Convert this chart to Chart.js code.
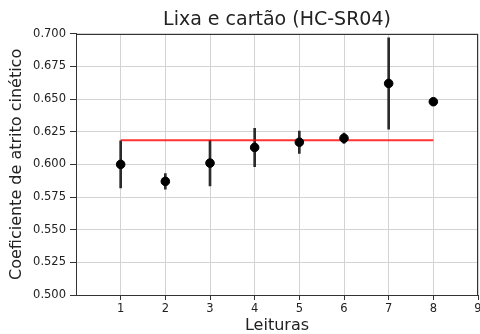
<!DOCTYPE html>
<html>
<head>
<meta charset="utf-8">
<script src="https://cdn.jsdelivr.net/npm/chart.js@4/dist/chart.umd.min.js"></script>
<style>
  body { margin: 0; background: #ffffff; }
  #wrap { width: 480px; height: 334px; }
</style>
</head>
<body>
<div id="wrap"><canvas id="atrito" width="480" height="334"></canvas></div>
<script>
// Data
const readings = [1, 2, 3, 4, 5, 6, 7, 8];
const means = [0.600, 0.587, 0.601, 0.613, 0.617, 0.620, 0.662, 0.648];
const errors = [0.018, 0.006, 0.0175, 0.0147, 0.0085, 0.004, 0.035, 0.0];
const meanLineX = [1, 8];
const meanValue = 0.6185;
const xTicks = [1, 2, 3, 4, 5, 6, 7, 8, 9];

const FONT = "'DejaVu Sans', sans-serif";

// frame on top and right like matplotlib spines
const framePlugin = {
  id: 'frame',
  afterDraw(chart) {
    const a = chart.chartArea;
    const ctx = chart.ctx;
    ctx.save();
    ctx.strokeStyle = '#333';
    ctx.lineWidth = 1;
    ctx.strokeRect(Math.round(a.left) + 0.5, Math.round(a.top) + 0.5,
      Math.round(a.right - a.left) - 1, Math.round(a.bottom - a.top));
    ctx.restore();
  }
};

document.addEventListener('DOMContentLoaded', function () {
  const ctx = document.getElementById('atrito').getContext('2d');
  new Chart(ctx, {
    type: 'scatter',
    data: {
      datasets: [
        {
          type: 'scatter',
          label: 'Leituras',
          data: readings.map((x, i) => ({ x: x, y: means[i] })),
          backgroundColor: '#000',
          borderColor: '#000',
          pointRadius: 4.3,
          order: 0
        },
        {
          type: 'line',
          label: 'Média',
          data: meanLineX.map(x => ({ x: x, y: meanValue })),
          borderColor: 'rgba(255, 0, 0, 0.8)',
          borderWidth: 2,
          pointRadius: 0,
          fill: false,
          order: 1
        },
        {
          type: 'bar',
          label: 'Erro',
          data: readings.map((x, i) => ({ x: x, y: [means[i] - errors[i], means[i] + errors[i]] })),
          backgroundColor: '#2b2b2b',
          borderWidth: 0,
          barThickness: 2,
          grouped: false,
          order: 2
        }
      ]
    },
    options: {
      responsive: false,
      animation: false,
      layout: { autoPadding: false, padding: { left: 0, right: 2, top: 0, bottom: 0 } },
      plugins: {
        legend: { display: false },
        tooltip: { enabled: false },
        title: {
          display: true,
          fullSize: false,
          text: 'Lixa e cartão (HC-SR04)',
          color: '#222',
          font: { family: FONT, size: 19, weight: 'normal' },
          padding: { top: 9, bottom: 2 }
        }
      },
      scales: {
        x: {
          type: 'linear',
          min: 0,
          max: 9,
          offset: false,
          afterBuildTicks: function (scale) {
            scale.ticks = xTicks.map(v => ({ value: v }));
          },
          afterFit: function (scale) {
            scale.height = 39;
            scale.paddingLeft = 0;
            scale.paddingRight = 0;
          },
          grid: { color: '#d3d3d3', tickColor: '#333', tickLength: 5, offset: false },
          border: { color: '#333', width: 1 },
          ticks: {
            color: '#222',
            padding: 2,
            maxRotation: 0,
            font: { family: FONT, size: 11.5 }
          },
          title: {
            display: true,
            text: 'Leituras',
            color: '#222',
            font: { family: FONT, size: 16, lineHeight: 1.0 },
            padding: { top: 0, bottom: 0 }
          }
        },
        y: {
          type: 'linear',
          min: 0.5,
          max: 0.7,
          afterFit: function (scale) {
            scale.width = 76;
          },
          grid: { color: '#d3d3d3', tickColor: '#333', tickLength: 6 },
          border: { color: '#333', width: 1 },
          ticks: {
            stepSize: 0.025,
            color: '#222',
            padding: 4,
            font: { family: FONT, size: 11.5 },
            callback: function (v) { return v.toFixed(3); }
          },
          title: {
            display: true,
            text: 'Coeficiente de atrito cinético',
            color: '#222',
            font: { family: FONT, size: 16 },
            padding: { top: 7, bottom: 0 }
          }
        }
      }
    },
    plugins: [framePlugin]
  });
});
</script>
</body>
</html>
